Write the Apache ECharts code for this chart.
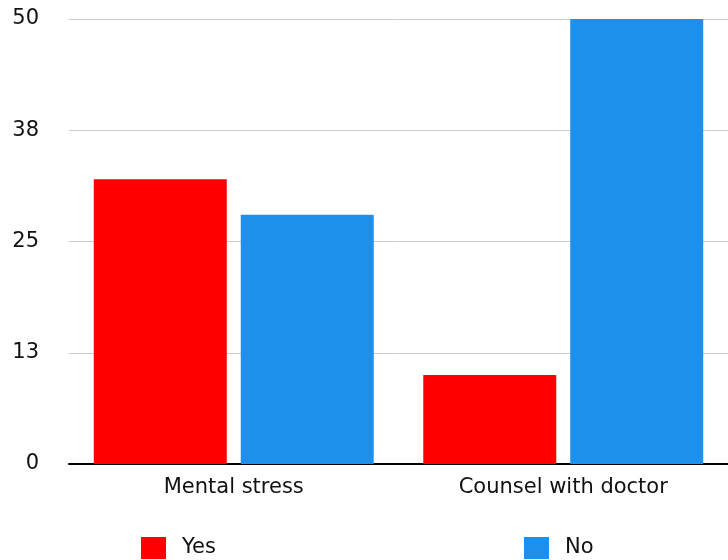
<!DOCTYPE html>
<html>
<head>
<meta charset="utf-8">
<script src="https://cdn.jsdelivr.net/npm/echarts@6/dist/echarts.min.js"></script>
<style>
	html, body { margin: 0; padding: 0; background: #fff; }
	#chart { width: 728px; height: 560px; }
</style>
</head>
<body>
<div id="chart"></div>
<script>
var categories = ['Mental stress', 'Counsel with doctor'];
var yesValues = [32, 10];
var noValues = [28, 50];

var myChart = echarts.init(document.getElementById('chart'));
var font = 'DejaVu Sans, Verdana, sans-serif';
var option = {
	animation: false,
	grid: { left: 69, right: 0, top: 19, bottom: 96 },
	legend: [{
		data: ['Yes'],
		icon: 'rect',
		left: 136, top: 532,
		itemWidth: 25, itemHeight: 22,
		textStyle: { fontFamily: font, fontSize: 21, color: '#111', padding: [0, 0, 0, 11] }
	}, {
		data: ['No'],
		icon: 'rect',
		left: 519, top: 532,
		itemWidth: 25, itemHeight: 22,
		textStyle: { fontFamily: font, fontSize: 21, color: '#111', padding: [0, 0, 0, 11] }
	}],
	xAxis: {
		type: 'category',
		data: categories,
		axisLine: { lineStyle: { color: '#000', width: 2 } },
		axisTick: { show: false },
		axisLabel: { fontFamily: font, fontSize: 21, color: '#111', margin: 13 }
	},
	yAxis: {
		type: 'value',
		min: 0, max: 50, interval: 12.5,
		axisLine: { show: false },
		axisTick: { show: false },
		splitLine: { lineStyle: { color: '#cccccc', width: 1 } },
		axisLabel: {
			fontFamily: font, fontSize: 21, color: '#111', margin: 30,
			formatter: function(v) { return Math.round(v); }
		}
	},
	series: [{
		name: 'Yes',
		type: 'bar',
		data: yesValues,
		barWidth: 133,
		barGap: '10.5%',
		itemStyle: { color: '#ff0000' }
	}, {
		name: 'No',
		type: 'bar',
		data: noValues,
		barWidth: 133,
		itemStyle: { color: '#1e90ec' }
	}]
};
myChart.setOption(option);
</script>
</body>
</html>
